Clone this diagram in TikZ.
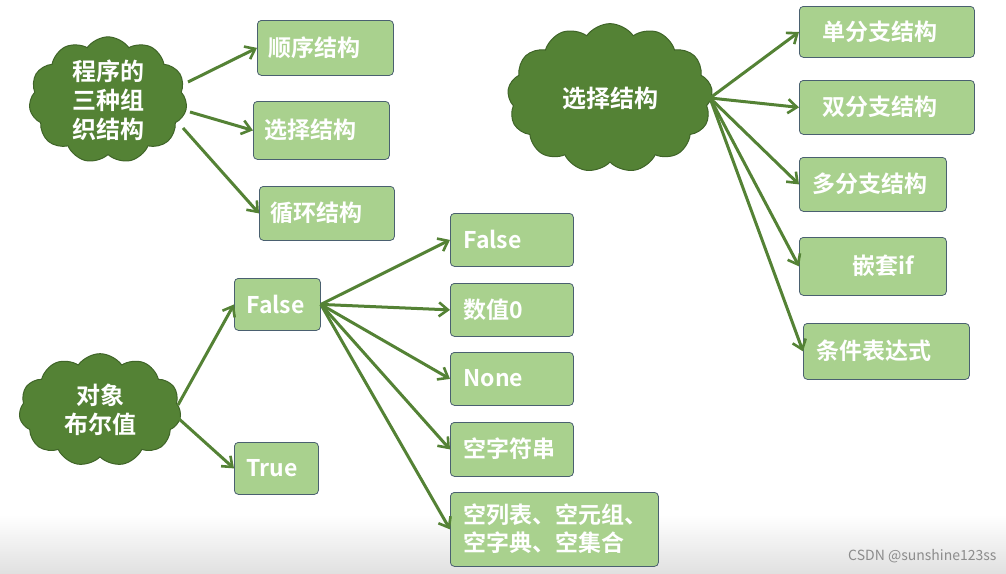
\documentclass[tikz,border=0pt]{standalone}
\usepackage{fontspec}
\setmainfont{Noto Sans CJK SC}[BoldFont={Noto Sans CJK SC Bold}]
\usetikzlibrary{shapes.symbols,arrows.meta}
\definecolor{cl}{HTML}{548235}
\definecolor{cle}{HTML}{3F6428}
\definecolor{bx}{HTML}{A9D18E}
\definecolor{bxe}{HTML}{4A6070}
\begin{document}
\begin{tikzpicture}[x=1pt,y=-1pt,
  box/.style={draw=bxe,fill=bx,rounded corners=4pt,line width=0.8pt,inner sep=0pt},
  cld/.style={cloud,cloud puffs=11,cloud puff arc=110,draw=cle,fill=cl,line width=1pt,text=white,font=\fontsize{24}{29}\selectfont\bfseries,align=center,inner sep=0pt},
  arr/.style={draw=cl,line width=3pt,-{Straight Barb[length=9pt,width=14pt,line width=2.6pt]}}]
\useasboundingbox (0,0) rectangle (1006,573);
\fill[top color=white,bottom color=black!12] (0,515) rectangle (1006,573);
\newcommand\bx[6]{\node[box,minimum width=#3-#2,minimum height=#5-#4,anchor=north west] (#1) at (#2,#4) {};
  \node[text=white,font=\fontsize{23}{28}\selectfont\bfseries,align=left,anchor=west] at (#2+2,{(#4+#5)/2}) {#6};}
% cloud 1
\node[cld,minimum width=158pt,minimum height=125pt] (c1) at (108,100) {程序的\\三种组\\织结构};
\bx{b1}{257}{393}{20}{75}{\hspace{6pt}顺序结构}
\bx{b2}{253}{389}{101}{159}{\hspace{6pt}选择结构}
\bx{b3}{259}{394}{186}{240}{\hspace{6pt}循环结构}
\coordinate (s1) at (188,82);\coordinate (s2) at (190,112);\coordinate (s3) at (183,128);
\draw[arr] (s1) -- (b1.west);
\draw[arr] (s2) -- (b2.west);
\draw[arr] (s3) -- (b3.west);
% cloud 2
\node[cld,minimum width=205pt,minimum height=66pt,cloud puffs=13] (c2) at (610,98) {选择结构};
\bx{r1}{799}{974}{6}{57}{\hspace{18pt}单分支结构}
\bx{r2}{799}{974}{80}{134}{\hspace{18pt}双分支结构}
\bx{r3}{799}{946}{157}{211}{\hspace{8pt}多分支结构}
\bx{r4}{799}{946}{237}{295}{\hspace{48pt}嵌套if}
\bx{r5}{803}{969}{323}{379}{\hspace{8pt}条件表达式}
\coordinate (s4) at (710,98);
\foreach \t in {r1,r2,r3,r4,r5} \draw[arr] (s4) -- (\t.west);
% cloud 3
\node[cld,minimum width=162pt,minimum height=105pt] (c3) at (100,410) {对象\\布尔值};
\bx{f}{234}{320}{278}{330}{\hspace{7pt}False}
\bx{t}{234}{318}{442}{494}{\hspace{7pt}True}
\coordinate (s5) at (178,405);\coordinate (s6) at (178,418);
\draw[arr] (s5) -- (f.west);
\draw[arr] (s6) -- (t.west);
\bx{v1}{450}{573}{213}{266}{\hspace{8pt}False}
\bx{v2}{450}{573}{283}{336}{\hspace{8pt}数值0}
\bx{v3}{450}{573}{352}{405}{\hspace{8pt}None}
\bx{v4}{450}{573}{422}{476}{\hspace{8pt}空字符串}
\bx{v5}{450}{658}{492}{566}{\hspace{8pt}空列表、空元组、\\\hspace{8pt}空字典、空集合}
\foreach \t in {v1,v2,v3,v4,v5} \draw[arr] (f.east) -- (\t.west);
\node[anchor=east,text=black!45,font=\fontsize{14}{16}\selectfont] (wm) at (1000,556) {CSDN @sunshine123ss};
\end{tikzpicture}
\end{document}
